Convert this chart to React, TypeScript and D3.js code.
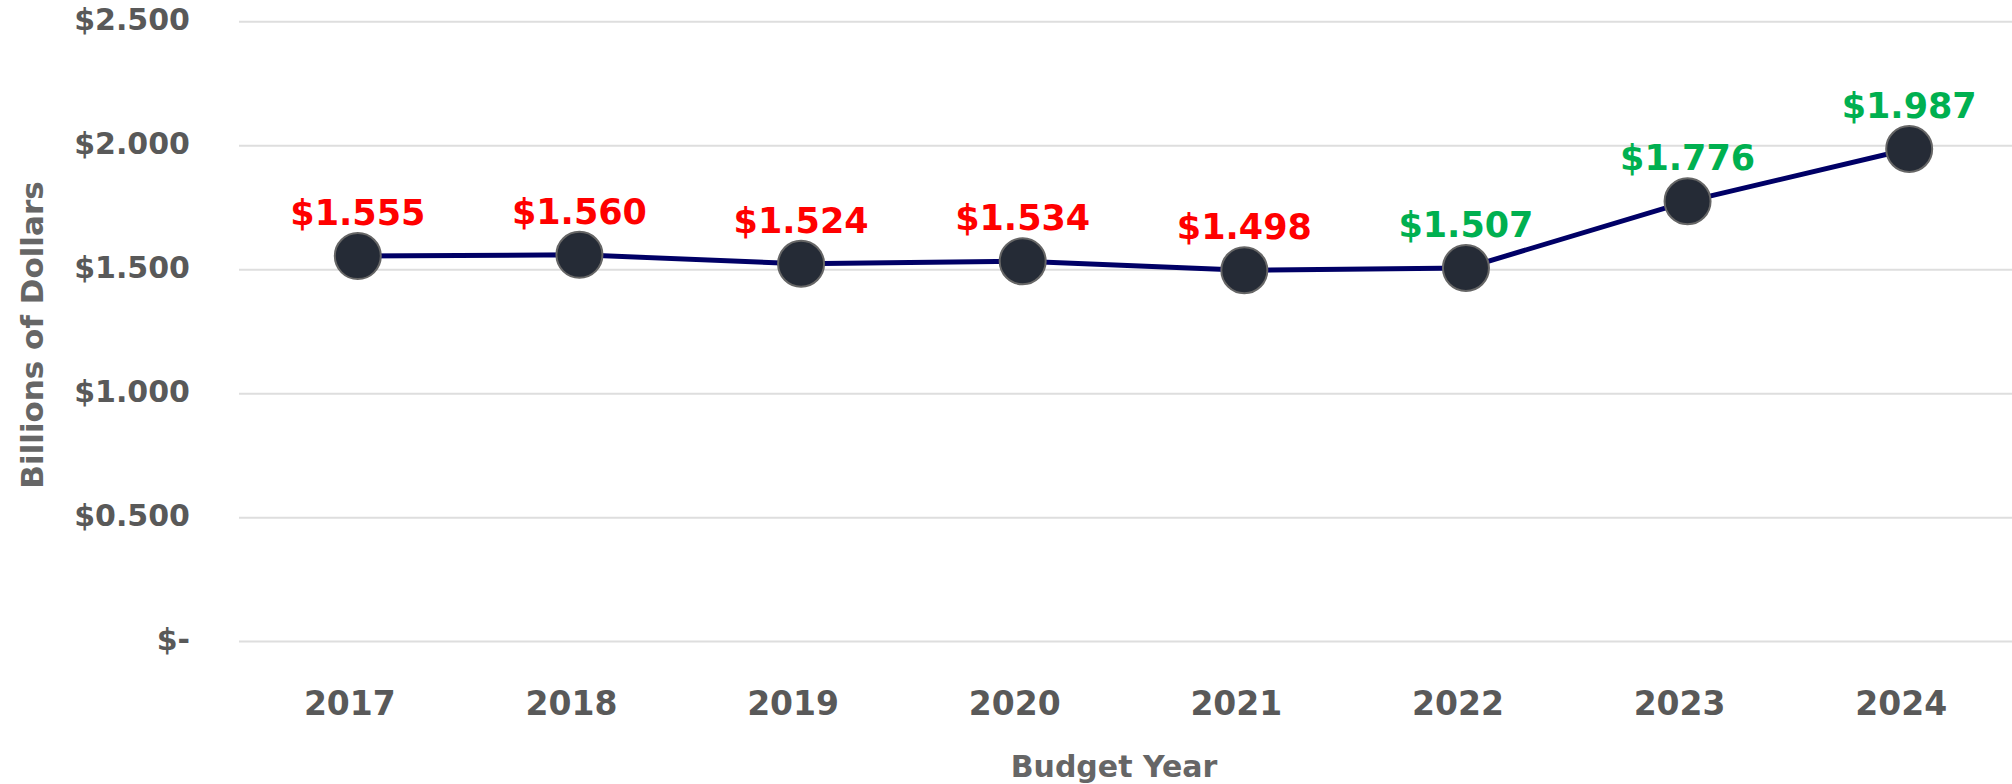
import React from "react";
import * as d3 from "d3";

const years = ["2017", "2018", "2019", "2020", "2021", "2022", "2023", "2024"];
const values = [1.555, 1.56, 1.524, 1.534, 1.498, 1.507, 1.776, 1.987];
const labelColors = ["#ff0000", "#ff0000", "#ff0000", "#ff0000", "#ff0000", "#00b050", "#00b050", "#00b050"];
const yTicks = [0, 0.5, 1.0, 1.5, 2.0, 2.5];
const yTickLabels = ["$-", "$0.500", "$1.000", "$1.500", "$2.000", "$2.500"];

const W = 2012;
const H = 784;
const FONT = "'DejaVu Sans', sans-serif";

export default function App() {
  const x = d3.scaleBand<string>().domain(years).range([239, 2012]).padding(0);
  const y = d3.scaleLinear().domain([0, 2.5]).range([641.6, 21.8]);
  const px = (yr: string) => (x(yr) as number) + x.bandwidth() / 2 + 8;
  const line = d3
    .line<number>()
    .x((_, i) => px(years[i]))
    .y((v) => y(v));

  return (
    <svg
      width={W}
      height={H}
      style={{ position: "absolute", left: 0, top: 0, background: "#fff" }}
      fontFamily={FONT}
    >
      {yTicks.map((t, i) => (
        <g key={t}>
          <line x1={239} x2={W} y1={y(t)} y2={y(t)} stroke="#dedede" strokeWidth={2} />
          <text
            x={190}
            y={y(t)}
            textAnchor="end"
            dominantBaseline="middle"
            fontSize={30}
            fontWeight="bold"
            fill="#595959"
          >
            {yTickLabels[i]}
          </text>
        </g>
      ))}
      {years.map((yr) => (
        <text
          key={yr}
          x={(x(yr) as number) + x.bandwidth() / 2}
          y={715}
          textAnchor="middle"
          fontSize={33}
          fontWeight="bold"
          fill="#595959"
        >
          {yr}
        </text>
      ))}
      <text
        transform={`translate(43,335) rotate(-90)`}
        textAnchor="middle"
        fontSize={31}
        fontWeight="bold"
        fill="#666666"
      >
        Billions of Dollars
      </text>
      <text x={1114} y={777} textAnchor="middle" fontSize={30} fontWeight="bold" fill="#666666">
        Budget Year
      </text>
      <path d={line(values) || ""} fill="none" stroke="#000066" strokeWidth={5} />
      {values.map((v, i) => (
        <circle
          key={years[i]}
          cx={px(years[i])}
          cy={y(v)}
          r={23}
          fill="#252b36"
          stroke="#666666"
          strokeWidth={2}
        />
      ))}
      {values.map((v, i) => (
        <text
          key={"l" + years[i]}
          x={px(years[i])}
          y={y(v) - 31}
          textAnchor="middle"
          fontSize={35}
          fontWeight="bold"
          fill={labelColors[i]}
        >
          {"$" + v.toFixed(3)}
        </text>
      ))}
    </svg>
  );
}
